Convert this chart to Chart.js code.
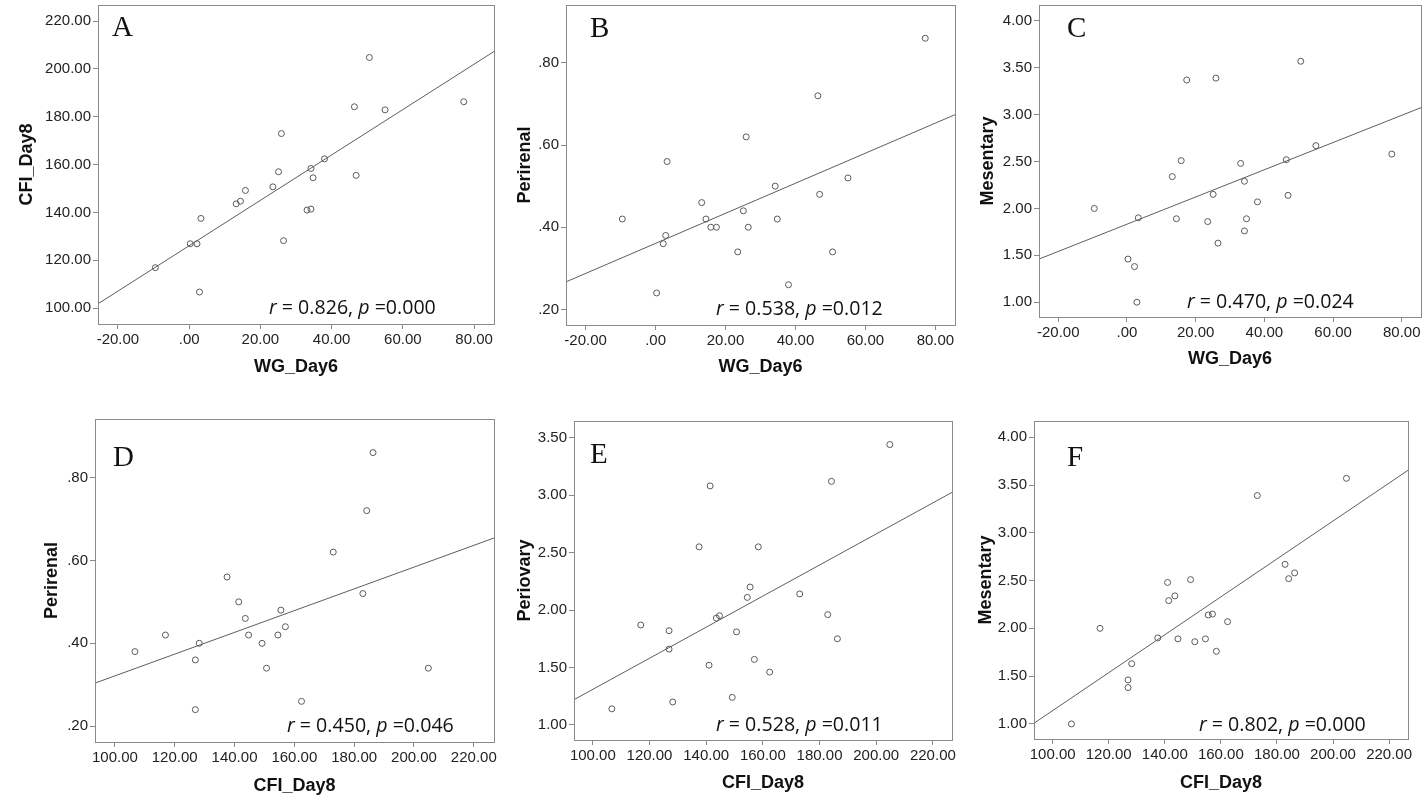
<!DOCTYPE html>
<html>
<head>
<meta charset="utf-8">
<script src="https://cdn.jsdelivr.net/npm/chart.js@4.4.1/dist/chart.umd.min.js"></script>
<style>
  html, body { margin: 0; padding: 0; background: #fff; }
  #page { position: relative; width: 1428px; height: 810px; overflow: hidden; }
  #page canvas { position: absolute; }
</style>
</head>
<body>
<div id="page"></div>
<script>
// one entry per animal, same order in every array; null = not measured
const wgDay6    = [-9.5, 0.3, 2.2, 3.3, 2.9, 13.2, 14.4, 15.8, 17.4, 23.5, 25.1, 25.9, 26.5, 33.1, 34.2, 34.2, 34.8, 38.0, 46.4, 46.9, 50.6, 55.0, 77.1];
const cfiDay8   = [116.9, 126.9, 126.9, 137.5, 106.7, 143.6, 144.7, 149.2, null, 150.7, 157.0, 173.0, 128.2, 141.0, 141.4, 158.4, 154.5, 162.4, 184.2, 155.5, 204.8, 182.9, 186.3];
const perirenal = [0.42, 0.24, 0.36, 0.56, 0.38, 0.46, 0.42, 0.40, 0.40, 0.34, 0.44, 0.62, 0.40, null, 0.50, null, 0.42, 0.26, 0.72, 0.48, 0.34, 0.52, 0.86];
const mesentary = [2.00, 1.46, 1.38, 1.90, 1.00, 2.34, 1.89, 2.51, 3.37, 1.86, 2.15, 3.39, 1.63, 2.48, 2.29, 1.76, 1.89, 2.07, 2.52, 2.14, 3.57, 2.67, 2.58];
const periovary = [1.87, 1.82, 1.66, 2.55, 1.14, 1.93, 1.95, 1.24, null, 1.81, 1.57, 2.14, 1.20, 1.52, 3.08, 2.55, 2.11, 1.46, 3.12, 2.20, 3.44, 1.96, 1.75];

// axis ranges and ticks
const wgRange  = [-25.6, 85.6],  wgTicks  = [-20, 0, 20, 40, 60, 80];
const cfiRange = [93.35, 226.75], cfiTicks = [100, 120, 140, 160, 180, 200, 220];
const perRange = [0.162, 0.941], perTicks = [0.2, 0.4, 0.6, 0.8];
const mesRange = [0.842, 4.17],  mesTicks = [1, 1.5, 2, 2.5, 3, 3.5, 4];
const povRange = [0.869, 3.645], povTicks = [1, 1.5, 2, 2.5, 3, 3.5];

// fitted lines, y at the left and right edge of each plot
const fitA = [101.8, 207.3];
const fitB = [0.267, 0.674];
const fitC = [1.46, 3.075];
const fitD = [0.304, 0.654];
const fitE = [1.22, 3.024];
const fitF = [1.007, 3.654];

const panelLetters = ['A', 'B', 'C', 'D', 'E', 'F'];
const rValues = ['0.826', '0.538', '0.470', '0.450', '0.528', '0.802'];
const pValues = ['0.000', '0.012', '0.024', '0.046', '0.011', '0.000'];

// box = canvas [left, top, width, height] on the page, area = plot frame [l, t, r, b]
const panels = [
  { x: wgDay6, y: cfiDay8, xName: 'WG_Day6', yName: 'CFI_Day8', xr: wgRange, yr: cfiRange, xt: wgTicks, yt: cfiTicks, fit: fitA,
    box: [0, -15, 505, 400], area: [98, 5, 494, 324], yTitle: 27, xTitle: 367, letter: [14, 31], stat: [171, 10] },
  { x: wgDay6, y: perirenal, xName: 'WG_Day6', yName: 'Perirenal', xr: wgRange, yr: perRange, xt: wgTicks, yt: perTicks, fit: fitB,
    box: [505, -15, 457, 400], area: [566, 5, 955, 325], yTitle: 525, xTitle: 367, letter: [24, 32], stat: [150, 10] },
  { x: wgDay6, y: mesentary, xName: 'WG_Day6', yName: 'Mesentary', xr: wgRange, yr: mesRange, xt: wgTicks, yt: mesTicks, fit: fitC,
    box: [962, -15, 466, 400], area: [1039, 5, 1421, 317], yTitle: 988, xTitle: 359, letter: [28, 32], stat: [148, 9] },
  { x: cfiDay8, y: perirenal, xName: 'CFI_Day8', yName: 'Perirenal', xr: cfiRange, yr: perRange, xt: cfiTicks, yt: perTicks, fit: fitD,
    box: [0, 400, 505, 410], area: [95, 419, 494, 742], yTitle: 52, xTitle: 786, letter: [18, 47], stat: [192, 10] },
  { x: cfiDay8, y: periovary, xName: 'CFI_Day8', yName: 'Periovary', xr: cfiRange, yr: povRange, xt: cfiTicks, yt: povTicks, fit: fitE,
    box: [505, 400, 457, 410], area: [574, 421, 952, 740], yTitle: 525, xTitle: 783, letter: [16, 42], stat: [142, 9] },
  { x: cfiDay8, y: mesentary, xName: 'CFI_Day8', yName: 'Mesentary', xr: cfiRange, yr: mesRange, xt: cfiTicks, yt: mesTicks, fit: fitF,
    box: [962, 400, 466, 410], area: [1034, 421, 1408, 739], yTitle: 986, xTitle: 783, letter: [33, 45], stat: [165, 8] },
];

// SPSS style labels: 0.80 -> .80, 0 -> .00
const spss = v => {
  let s = Math.abs(v).toFixed(2);
  if (s.startsWith('0')) s = s.slice(1);
  return (v < 0 ? '-' : '') + s;
};

const tickFont = { family: 'Liberation Sans, Arial, sans-serif', size: 15 };
const titleFont = { family: 'Liberation Sans, Arial, sans-serif', size: 18, weight: 'bold' };

const framePlugin = {
  id: 'frame',
  afterDraw(chart, args, opts) {
    const { ctx, chartArea: a } = chart;
    ctx.save();
    ctx.strokeStyle = '#8a8a8a';
    ctx.lineWidth = 1;
    ctx.strokeRect(Math.round(a.left) + 0.5, Math.round(a.top) + 0.5, Math.round(a.right - a.left), Math.round(a.bottom - a.top));

    ctx.fillStyle = '#111';
    ctx.font = '29px "Liberation Serif", "Times New Roman", serif';
    ctx.textBaseline = 'alphabetic';
    ctx.fillText(opts.letter, a.left + opts.letterPos[0], a.top + opts.letterPos[1]);

    // r = ..., p = ... with italic r and p
    const runs = [['italic', 'r'], ['normal', ' = ' + opts.r + ', '], ['italic', 'p'], ['normal', ' =' + opts.p]];
    let x = a.left + opts.statPos[0];
    const y = a.bottom - opts.statPos[1];
    runs.forEach(([st, t]) => {
      ctx.font = st + ' 19.6px "Open Sans", "Noto Sans", sans-serif';
      ctx.fillText(t, x, y);
      x += ctx.measureText(t).width;
    });
    ctx.restore();
  }
};

const page = document.getElementById('page');

panels.forEach((p, i) => {
  const [bx, by, bw, bh] = p.box;
  const [al, at, ar, ab] = p.area;
  const cv = document.createElement('canvas');
  cv.width = bw; cv.height = bh;
  cv.style.left = bx + 'px'; cv.style.top = by + 'px';
  cv.style.width = bw + 'px'; cv.style.height = bh + 'px';
  page.appendChild(cv);

  const pts = [];
  p.x.forEach((xv, k) => {
    if (xv !== null && p.y[k] !== null) pts.push({ x: xv, y: p.y[k] });
  });

  const yAxisW = al - bx;
  const xAxisH = (by + bh) - ab;
  const lh = titleFont.size * 1.2;

  new Chart(cv.getContext('2d'), {
    type: 'scatter',
    data: {
      datasets: [
        {
          data: pts,
          pointStyle: 'circle',
          pointRadius: 3,
          pointBorderWidth: 1,
          pointBorderColor: '#5a5a5a',
          pointBackgroundColor: 'rgba(255,255,255,0)',
          showLine: false,
        },
        {
          type: 'line',
          data: [{ x: p.xr[0], y: p.fit[0] }, { x: p.xr[1], y: p.fit[1] }],
          borderColor: '#5e5e5e',
          borderWidth: 1,
          pointRadius: 0,
          fill: false,
        },
      ],
    },
    options: {
      responsive: false,
      animation: false,
      devicePixelRatio: 1,
      layout: { padding: { left: 0, top: at - by, right: (bx + bw) - ar, bottom: 0 } },
      plugins: {
        legend: { display: false },
        tooltip: { enabled: false },
        frame: { letter: panelLetters[i], letterPos: p.letter, r: rValues[i], p: pValues[i], statPos: p.stat },
      },
      scales: {
        x: {
          type: 'linear',
          min: p.xr[0], max: p.xr[1],
          afterBuildTicks: s => { s.ticks = p.xt.map(v => ({ value: v })); },
          afterFit: s => { s.height = xAxisH; },
          ticks: { callback: v => spss(v), font: tickFont, color: '#222', padding: 2, maxRotation: 0 },
          grid: { drawOnChartArea: false, drawTicks: true, tickLength: 5, color: '#8a8a8a' },
          border: { display: true, color: '#8a8a8a' },
          title: { display: true, text: p.xName, font: titleFont, color: '#111',
                   padding: { top: 0, bottom: (by + bh) - p.xTitle - lh / 2 } },
        },
        y: {
          type: 'linear',
          min: p.yr[0], max: p.yr[1],
          afterBuildTicks: s => { s.ticks = p.yt.map(v => ({ value: v })); },
          afterFit: s => { s.width = yAxisW; },
          ticks: { callback: v => spss(v), font: tickFont, color: '#222', padding: 2 },
          grid: { drawOnChartArea: false, drawTicks: true, tickLength: 5, color: '#8a8a8a' },
          border: { display: true, color: '#8a8a8a' },
          title: { display: true, text: p.yName, font: titleFont, color: '#111',
                   padding: { top: p.yTitle - bx - lh / 2, bottom: 0 } },
        },
      },
    },
    plugins: [framePlugin],
  });
});
</script>
</body>
</html>
